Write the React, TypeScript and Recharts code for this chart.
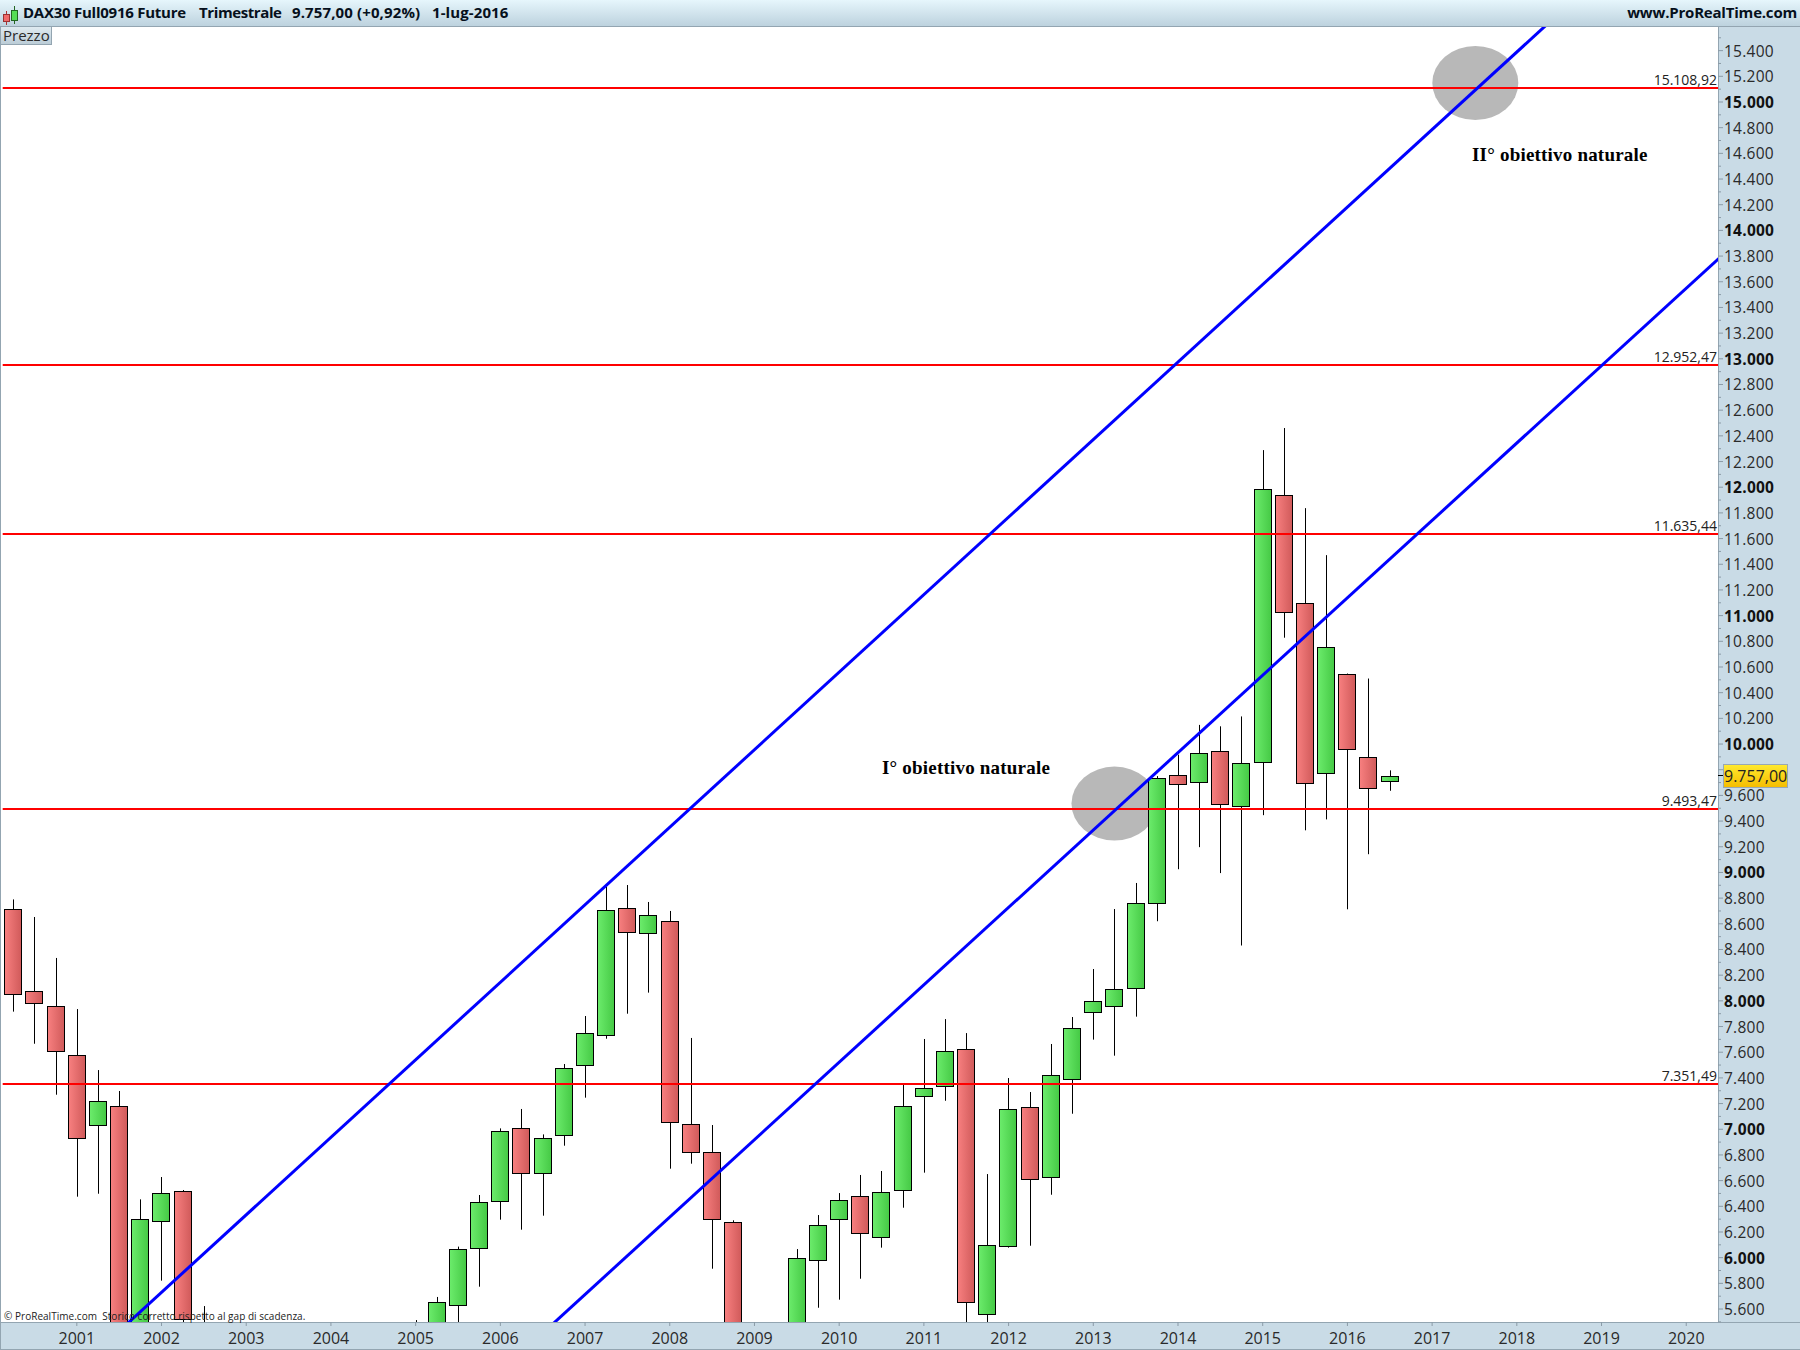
import { ComposedChart, Bar, Line, XAxis, YAxis, ReferenceLine, ReferenceDot } from "recharts";

const UI_FONT = "'Open Sans', sans-serif";

// one entry per quarter, starting at 2000 Q2 (fractional year)
const quarters = [
    2000.25, 2000.5, 2000.75,
    2001, 2001.25, 2001.5, 2001.75,
    2002, 2002.25, 2002.5, 2002.75,
    2003, 2003.25, 2003.5, 2003.75,
    2004, 2004.25, 2004.5, 2004.75,
    2005, 2005.25, 2005.5, 2005.75,
    2006, 2006.25, 2006.5, 2006.75,
    2007, 2007.25, 2007.5, 2007.75,
    2008, 2008.25, 2008.5, 2008.75,
    2009, 2009.25, 2009.5, 2009.75,
    2010, 2010.25, 2010.5, 2010.75,
    2011, 2011.25, 2011.5, 2011.75,
    2012, 2012.25, 2012.5, 2012.75,
    2013, 2013.25, 2013.5, 2013.75,
    2014, 2014.25, 2014.5, 2014.75,
    2015, 2015.25, 2015.5, 2015.75,
    2016, 2016.25, 2016.5,
];
const opens = [
    8713, 8074, 7957,
    7576, 7030, 7178, 4400,
    6283, 6516, 5400, 3750,
    4100, 3500, 4300, 4500,
    5200, 5000, 5150, 5000,
    5400, 5480, 5629, 6078,
    6439, 7007, 6657, 6953,
    7498, 7731, 8720, 8526,
    8619, 7038, 6820, 6275,
    4700, 4100, 5000, 5979,
    6298, 6477, 6158, 6524,
    7256, 7334, 7622, 5558,
    6088, 7171, 6625, 7389,
    7910, 7957, 8097, 8762,
    9761, 9706, 9947, 9520,
    9862, 11936, 11101, 9777,
    10549, 9900, 9714,
];
const highs = [
    8790, 8653, 8334,
    7936, 7461, 7298, 6454,
    6628, 6527, 5623, 4900,
    4300, 4500, 4900, 5250,
    5400, 5300, 5200, 5450,
    5514, 5694, 6086, 6488,
    7007, 7158, 6960, 7508,
    7882, 8889, 8902, 8770,
    8700, 7711, 7033, 6291,
    5000, 5200, 6067, 6332,
    6503, 6644, 6675, 7352,
    7703, 7858, 7749, 6651,
    7399, 7290, 7664, 7874,
    8248, 8715, 8918, 9750,
    9917, 10149, 10138, 10215,
    12289, 12461, 11837, 11471,
    10549, 10510, 9795,
];
const lows = [
    7916, 7666, 7269,
    6475, 6498, 3800, 4100,
    5821, 5480, 3400, 3300,
    2900, 3400, 4200, 4400,
    4900, 4800, 4600, 4900,
    5250, 5300, 5480, 5774,
    6296, 6218, 6327, 6872,
    7246, 7705, 7900, 8064,
    6693, 6732, 5914, 4200,
    3600, 3900, 4800, 5610,
    5673, 5836, 6078, 6389,
    6662, 7222, 5400, 5480,
    6078, 6093, 6490, 7121,
    7698, 7573, 7877, 8620,
    9025, 9197, 8995, 8431,
    9446, 10828, 9328, 9413,
    8713, 9142, 9636,
];
const closes = [
    8051, 7980, 7607,
    6929, 7217, 4300, 6298,
    6501, 5525, 3700, 4100,
    3500, 4300, 4500, 5200,
    5000, 5150, 5000, 5400,
    5480, 5652, 6065, 6431,
    6984, 6657, 6929, 7474,
    7747, 8705, 8534, 8666,
    7054, 6820, 6298, 4600,
    4100, 5000, 5995, 6252,
    6446, 6189, 6509, 7178,
    7318, 7607, 5652, 6096,
    7155, 6610, 7420, 7786,
    7996, 8090, 8759, 9736,
    9690, 9930, 9534, 9854,
    11990, 11030, 9698, 10759,
    9963, 9659, 9752,
];

const yearTicks = [2001, 2002, 2003, 2004, 2005, 2006, 2007, 2008, 2009, 2010, 2011, 2012, 2013, 2014, 2015, 2016, 2017, 2018, 2019, 2020];
const redLevels = [15108.92, 12952.47, 11635.44, 9493.47, 7351.49];
const upperTrend = [{ x: 2001.5, price: 5428 }, { x: 2018.5, price: 15691 }];
const lowerTrend = [{ x: 2006.5, price: 5412 }, { x: 2020.75, price: 14002 }];
const targets = [{ x: 2017.51, price: 15148 }, { x: 2013.25, price: 9536 }];

const priceTicks = Array.from({ length: 101 }, (_, i) => 5500 + i * 100);
const candles = quarters.map((x, i) => ({
    x,
    open: opens[i],
    high: highs[i],
    low: lows[i],
    close: closes[i],
}));

const thousands = (n: number) => String(n).replace(/\B(?=(\d{3})+$)/g, ".");
const levelLabel = (n: number) => {
    const [a, b] = n.toFixed(2).split(".");
    return thousands(Number(a)) + "," + b;
};

const Candle = (props: any) => {
    const { x, y, width, height, payload } = props;
    const { open, high, low, close } = payload;
    const up = close >= open;
    const perUnit = height / (high - low);
    const top = Math.round(y + (high - Math.max(open, close)) * perUnit) + 0.5;
    const bottom = Math.round(y + (high - Math.min(open, close)) * perUnit) + 0.5;
    const mid = x + width / 2;
    const wickX = Math.round(mid) + 0.5;
    return (
        <g>
            <line x1={wickX} x2={wickX} y1={y} y2={y + height} stroke="#000" strokeWidth={1} />
            <rect
                x={Math.floor(mid - 8.5) + 0.5}
                y={top}
                width={17}
                height={Math.max(bottom - top, 1)}
                fill={up ? "url(#candleUp)" : "url(#candleDown)"}
                stroke="#000"
                strokeWidth={1}
            />
        </g>
    );
};

const PriceTick = (props: any) => {
    const { x, y, payload } = props;
    const v = payload.value;
    // 9.800 sits behind the last price flag
    const labelled = v % 200 === 0 && v !== 9800;
    const major = v % 1000 === 0;
    return (
        <g>
            <line x1={x} x2={x + (v % 200 === 0 ? 5 : 3)} y1={y} y2={y} stroke="#8b9ba7" />
            {labelled && (
                <text
                    x={x + 6}
                    y={y + 6}
                    fontFamily={UI_FONT}
                    fontSize={15.5}
                    letterSpacing={0.25}
                    fontWeight={major ? 700 : 400}
                    fill={major ? "#111" : "#2a2a2a"}
                >
                    {thousands(v)}
                </text>
            )}
        </g>
    );
};

const LevelLabel = (props: any) => {
    const { viewBox, value } = props;
    return (
        <text x={viewBox.x + viewBox.width - 1} y={viewBox.y - 3} textAnchor="end" fontFamily={UI_FONT} fontSize={14} fill="#222">
            {value}
        </text>
    );
};

const Target = (props: any) => <ellipse cx={props.cx} cy={props.cy} rx={43} ry={37} fill="#b8b8b8" />;

const HeaderText = ({ left, spacing, children }: any) => (
    <span style={{ position: "absolute", left, top: 2, fontFamily: UI_FONT, fontWeight: 700, fontSize: 15, lineHeight: "20px", letterSpacing: spacing, color: "#06101c", whiteSpace: "pre" }}>
        {children}
    </span>
);

const Note = ({ left, top, children }: any) => (
    <span style={{ position: "absolute", left, top, fontFamily: "'Liberation Serif', serif", fontWeight: 700, fontSize: 19, lineHeight: "22px", letterSpacing: 0.2, color: "#000", whiteSpace: "pre" }}>
        {children}
    </span>
);

export default function App() {
    return (
        <div style={{ position: "absolute", left: 0, top: 0, width: 1800, height: 1350, background: "#fff", overflow: "hidden" }}>
            {/* panels behind the chart */}
            <div style={{ position: "absolute", left: 1718, top: 27, width: 82, height: 1323, background: "#c9dbe6", borderLeft: "1px solid #93a5b1", boxSizing: "border-box" }} />
            <div style={{ position: "absolute", left: 0, top: 1322, width: 1800, height: 28, background: "#c9dbe6", borderTop: "1px solid #93a5b1", borderBottom: "1px solid #93a5b1", boxSizing: "border-box" }} />
            <div style={{ position: "absolute", left: 0, top: 27, width: 1, height: 1323, background: "#93a5b1" }} />

            <div style={{ position: "absolute", left: 0, top: 0 }}>
                <ComposedChart
                    width={1800}
                    height={1350}
                    data={candles}
                    margin={{ top: 27, right: 0, bottom: 0, left: 2.7 }}
                >
                    <defs>
                        <linearGradient id="candleUp" x1="0" y1="0" x2="1" y2="0">
                            <stop offset="0%" stopColor="#6cec6c" />
                            <stop offset="100%" stopColor="#45c945" />
                        </linearGradient>
                        <linearGradient id="candleDown" x1="0" y1="0" x2="1" y2="0">
                            <stop offset="0%" stopColor="#f88080" />
                            <stop offset="100%" stopColor="#d05a5a" />
                        </linearGradient>
                    </defs>
                    <XAxis
                        dataKey="x"
                        type="number"
                        domain={[2000.125, 2020.375]}
                        allowDataOverflow
                        ticks={yearTicks}
                        interval={0}
                        height={28}
                        axisLine={false}
                        tickSize={4}
                        tickMargin={7}
                        tickLine={{ stroke: "#8b9ba7" }}
                        tick={{ fontFamily: UI_FONT, fontSize: 16, fill: "#2a2a2a" }}
                        tickFormatter={(v: number) => String(v)}
                    />
                    <YAxis
                        orientation="right"
                        type="number"
                        domain={[5499, 15584]}
                        allowDataOverflow
                        ticks={priceTicks}
                        interval={0}
                        width={82}
                        axisLine={false}
                        tickLine={false}
                        tickSize={0}
                        tickMargin={0}
                        tick={<PriceTick />}
                    />

                    {targets.map((t) => (
                        <ReferenceDot key={t.x} x={t.x} y={t.price} r={40} shape={<Target />} ifOverflow="visible" zIndex={100} />
                    ))}

                    <Bar dataKey={(d: any) => [d.low, d.high]} barSize={17} shape={<Candle />} isAnimationActive={false} />

                    {redLevels.map((level) => (
                        <ReferenceLine
                            key={level}
                            y={level}
                            stroke="#ff0000"
                            strokeWidth={2}
                            label={<LevelLabel value={levelLabel(level)} />}
                        />
                    ))}

                    <Line data={upperTrend} dataKey="price" stroke="#0000ff" strokeWidth={3} dot={false} activeDot={false} legendType="none" isAnimationActive={false} />
                    <Line data={lowerTrend} dataKey="price" stroke="#0000ff" strokeWidth={3} dot={false} activeDot={false} legendType="none" isAnimationActive={false} />
                </ComposedChart>
            </div>

            {/* header bar */}
            <div style={{ position: "absolute", left: 0, top: 0, width: 1800, height: 27, background: "linear-gradient(#e6f6fc, #bdd2de)", borderBottom: "1px solid #93a5b1", boxSizing: "border-box" }}>
                <div style={{ position: "absolute", left: 6, top: 11, width: 1, height: 14, background: "#a33" }} />
                <div style={{ position: "absolute", left: 3, top: 14, width: 5, height: 6, background: "#f06a6a", border: "1px solid #933" }} />
                <div style={{ position: "absolute", left: 14, top: 6, width: 1, height: 18, background: "#262" }} />
                <div style={{ position: "absolute", left: 11, top: 10, width: 5, height: 9, background: "#55dd55", border: "1px solid #262" }} />
                <HeaderText left={23} spacing={-0.25}>DAX30 Full0916 Future</HeaderText>
                <HeaderText left={199} spacing={-0.4}>Trimestrale</HeaderText>
                <HeaderText left={292} spacing={0.12}>9.757,00 (+0,92%)</HeaderText>
                <HeaderText left={432} spacing={0.1}>1-lug-2016</HeaderText>
                <span style={{ position: "absolute", right: 3, top: 2, fontFamily: UI_FONT, fontWeight: 700, fontSize: 15, lineHeight: "20px", letterSpacing: -0.2, color: "#06101c" }}>www.ProRealTime.com</span>
            </div>

            <div style={{ position: "absolute", left: 1, top: 27, width: 51, height: 18, background: "linear-gradient(#dfeaf0, #bccdd7)", borderRight: "1px solid #93a5b1", borderBottom: "1px solid #93a5b1", fontFamily: UI_FONT, fontSize: 15, lineHeight: "17px", color: "#2a2a2a", paddingLeft: 2, boxSizing: "border-box" }}>Prezzo</div>

            <Note left={1472} top={144}>II° obiettivo naturale</Note>
            <Note left={882} top={757}>I° obiettivo naturale</Note>

            <span style={{ position: "absolute", left: 4, top: 1310, fontFamily: UI_FONT, fontSize: 10, lineHeight: "12px", letterSpacing: 0.03, color: "#222", whiteSpace: "pre" }}>© ProRealTime.com  Storico corretto rispetto al gap di scadenza.</span>

            {/* last price flag */}
            <div style={{ position: "absolute", left: 1718, top: 775, width: 5, height: 1, background: "#000" }} />
            <div style={{ position: "absolute", left: 1723, top: 764, width: 65, height: 24, background: "linear-gradient(#ffe92e, #f5bd00)", border: "1px solid #98a8b4", boxSizing: "border-box", fontFamily: UI_FONT, fontSize: 16, lineHeight: "23px", color: "#222", textAlign: "center" }}>9.757,00</div>
        </div>
    );
}
